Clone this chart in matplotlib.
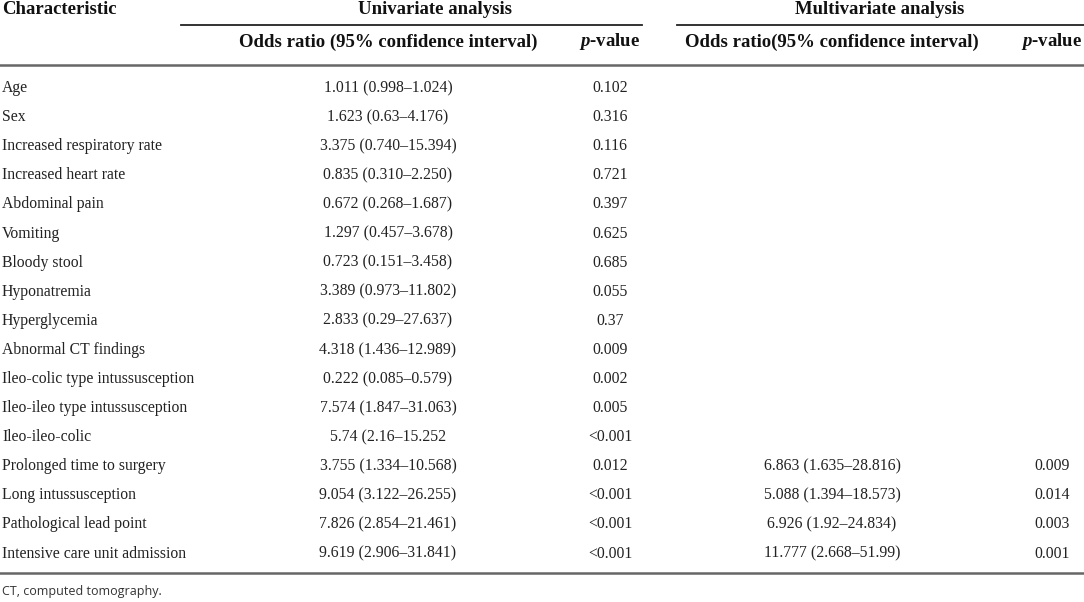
import matplotlib.pyplot as plt

plt.rcParams["mathtext.fontset"] = "custom"
plt.rcParams["mathtext.bfit"] = "Liberation Serif:bold:italic"
plt.rcParams["mathtext.it"] = "Liberation Serif:italic"
plt.rcParams["mathtext.rm"] = "Liberation Serif"
plt.rcParams["mathtext.bf"] = "Liberation Serif:bold"

characteristics = [
    "Age", "Sex", "Increased respiratory rate", "Increased heart rate",
    "Abdominal pain", "Vomiting", "Bloody stool", "Hyponatremia",
    "Hyperglycemia", "Abnormal CT findings", "Ileo-colic type intussusception",
    "Ileo-ileo type intussusception", "Ileo-ileo-colic",
    "Prolonged time to surgery", "Long intussusception",
    "Pathological lead point", "Intensive care unit admission",
]
uni_or = [
    "1.011 (0.998–1.024)", "1.623 (0.63–4.176)", "3.375 (0.740–15.394)",
    "0.835 (0.310–2.250)", "0.672 (0.268–1.687)", "1.297 (0.457–3.678)",
    "0.723 (0.151–3.458)", "3.389 (0.973–11.802)", "2.833 (0.29–27.637)",
    "4.318 (1.436–12.989)", "0.222 (0.085–0.579)", "7.574 (1.847–31.063)",
    "5.74 (2.16–15.252", "3.755 (1.334–10.568)", "9.054 (3.122–26.255)",
    "7.826 (2.854–21.461)", "9.619 (2.906–31.841)",
]
uni_p = [
    "0.102", "0.316", "0.116", "0.721", "0.397", "0.625", "0.685", "0.055",
    "0.37", "0.009", "0.002", "0.005", "<0.001", "0.012", "<0.001",
    "<0.001", "<0.001",
]
multi_or = [""] * 13 + [
    "6.863 (1.635–28.816)", "5.088 (1.394–18.573)",
    "6.926 (1.92–24.834)", "11.777 (2.668–51.99)",
]
multi_p = [""] * 13 + ["0.009", "0.014", "0.003", "0.001"]

W, H = 1084, 602
fig = plt.figure(figsize=(W / 100, H / 100), dpi=100)
ax = fig.add_axes([0, 0, 1, 1])
ax.set_xlim(0, W)
ax.set_ylim(H, 0)
ax.axis("off")

serif = "Liberation Serif"
hdr = dict(family=serif, fontsize=13.5, fontweight="bold", va="center",
           color="#111111")
body = dict(family=serif, fontsize=11.3, va="center", color="#222222")

# header
ax.text(2, 10, "Characteristic", ha="left", **hdr)
ax.text(435, 10, "Univariate analysis", ha="center", **hdr)
ax.text(880, 10, "Multivariate analysis", ha="center", **hdr)
ax.plot([181, 642], [25, 25], color="#222222", lw=1.3)
ax.plot([677, 1084], [25, 25], color="#222222", lw=1.3)
ax.text(388, 42, "Odds ratio (95% confidence interval)", ha="center", **hdr)
ax.text(610, 42, r"$\mathbfit{p}$-value", ha="center", **hdr)
ax.text(832, 42, "Odds ratio(95% confidence interval)", ha="center", **hdr)
ax.text(1052, 42, r"$\mathbfit{p}$-value", ha="center", **hdr)
ax.plot([0, W], [65, 65], color="#666666", lw=1.8)

# rows
y0, dy = 88, 29.1
for i, name in enumerate(characteristics):
    y = y0 + i * dy
    ax.text(2, y, name, ha="left", **body)
    ax.text(388, y, uni_or[i], ha="center", **body)
    ax.text(610, y, uni_p[i], ha="center", **body)
    ax.text(832, y, multi_or[i], ha="center", **body)
    ax.text(1052, y, multi_p[i], ha="center", **body)

ax.plot([0, W], [573, 573], color="#666666", lw=1.8)
ax.text(2, 592, "CT, computed tomography.", ha="left", va="center",
        family="Open Sans", fontsize=9, color="#333333")

fig.savefig("out.png", dpi=100)
